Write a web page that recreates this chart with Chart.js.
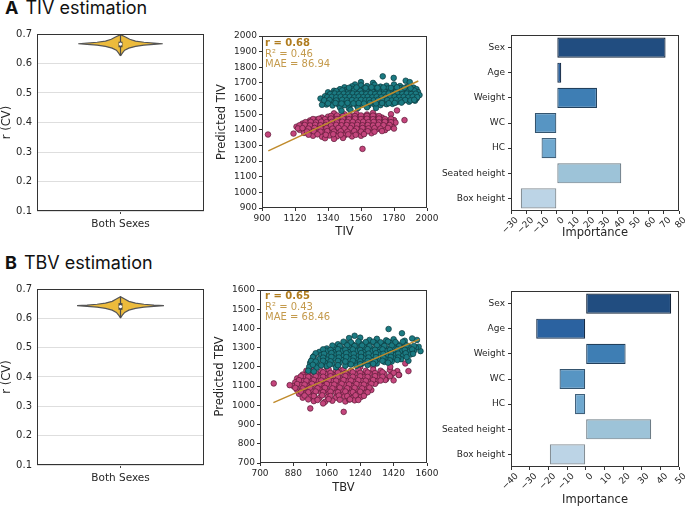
<!DOCTYPE html>
<html>
<head>
<meta charset="utf-8">
<script src="https://cdn.jsdelivr.net/npm/chart.js@4.4.1/dist/chart.umd.min.js"></script>
<style>
body { margin: 0; width: 685px; height: 509px; background: #fff; position: relative; overflow: hidden; }
.box { position: absolute; }
.head { position: absolute; left: 5px; font: 18px Inter, 'Open Sans', sans-serif; color: #111; white-space: nowrap; z-index: 5; }
.head b { margin-right: 7px; }
.stats { position: absolute; font: 10px 'DejaVu Sans'; line-height: 10.5px; color: #c49a4c; z-index: 5; }
.stats b { color: #b07c1e; }
</style>
</head>
<body>
<div class="head" style="top:-3px"><b>A</b>TIV estimation</div>
<div class="head" style="top:252px"><b>B</b>TBV estimation</div>
<div class="stats" style="left:265px;top:38px"><b>r = 0.68</b><br>R² = 0.46<br>MAE = 86.94</div>
<div class="stats" style="left:265px;top:291px"><b>r = 0.65</b><br>R² = 0.43<br>MAE = 68.46</div>
<script>
// violin outlines (r value, half width) and box stats [min, q1, median, q3, max]
const violinA_r = [0.626, 0.636, 0.645, 0.652, 0.658, 0.662, 0.665, 0.667, 0.669, 0.672, 0.676, 0.682, 0.690, 0.698];
const violinA_w = [0, 0.012, 0.025, 0.05, 0.09, 0.14, 0.20, 0.253, 0.20, 0.14, 0.09, 0.055, 0.03, 0];
const violinB_r = [0.601, 0.610, 0.620, 0.628, 0.634, 0.638, 0.641, 0.643, 0.645, 0.648, 0.652, 0.658, 0.666, 0.674];
const violinB_w = [0, 0.01, 0.025, 0.05, 0.09, 0.14, 0.20, 0.26, 0.20, 0.14, 0.09, 0.05, 0.025, 0];
const boxA = [0.626, 0.655, 0.666, 0.674, 0.698];
const boxB = [0.601, 0.629, 0.640, 0.652, 0.674];
const rTicks = [0.1, 0.2, 0.3, 0.4, 0.5, 0.6, 0.7];

// predicted vs actual (x,y pairs)
const tivMale = "1705,1742 1778,1732 1858,1714 1885,1705 1560,1705 1640,1700 1520,1690 1450,1672 1500,1678 1560,1684 1600,1680 1650,1688 1690,1676 1730,1682 1780,1690 1820,1680 1870,1676 1910,1670 1380,1650 1420,1660 1460,1655 1500,1662 1540,1658 1580,1664 1620,1660 1660,1666 1700,1658 1740,1664 1780,1660 1820,1666 1860,1658 1900,1652 1930,1660 1340,1640 1370,1632 1400,1640 1430,1636 1460,1644 1490,1638 1520,1642 1550,1636 1580,1644 1610,1638 1640,1646 1670,1640 1700,1644 1730,1638 1760,1645 1790,1640 1820,1646 1850,1638 1880,1644 1910,1636 1940,1642 1320,1615 1350,1622 1380,1616 1410,1624 1440,1618 1470,1626 1500,1620 1530,1626 1560,1618 1590,1624 1620,1618 1650,1626 1680,1620 1710,1626 1740,1618 1770,1624 1800,1620 1830,1626 1860,1618 1890,1624 1920,1616 1950,1622 1290,1600 1330,1596 1360,1604 1390,1598 1420,1604 1450,1598 1480,1606 1510,1600 1540,1606 1570,1598 1600,1604 1630,1600 1660,1606 1690,1598 1720,1604 1750,1600 1780,1606 1810,1600 1840,1604 1870,1598 1900,1604 1930,1600 1310,1578 1345,1584 1380,1578 1415,1584 1450,1580 1485,1586 1520,1580 1555,1584 1590,1578 1625,1584 1660,1580 1695,1586 1730,1580 1765,1584 1800,1578 1840,1584 1880,1580 1920,1586 1330,1562 1370,1556 1410,1562 1450,1558 1490,1564 1530,1558 1570,1562 1610,1556 1650,1562 1690,1558 1730,1564 1770,1566 1420,1542 1480,1536 1540,1540 1600,1544 1660,1540 1430,1522 1490,1528 1300,1560 " +
    "1395,1648 1435,1652 1475,1647 1515,1653 1555,1649 1595,1652 1635,1648 1675,1653 1715,1649 1755,1652 1795,1647 1835,1653 1875,1648 1915,1651 1355,1629 1385,1632 1415,1628 1445,1631 1475,1627 1505,1632 1535,1629 1565,1631 1595,1628 1625,1633 1655,1629 1685,1631 1715,1628 1745,1632 1775,1629 1805,1631 1835,1628 1865,1632 1895,1629 1925,1631 1335,1609 1365,1611 1395,1608 1425,1612 1455,1609 1485,1611 1515,1608 1545,1612 1575,1609 1605,1611 1635,1608 1665,1612 1695,1609 1725,1611 1755,1608 1785,1612 1815,1609 1845,1611 1875,1608 1905,1612 1935,1609 1315,1589 1350,1591 1395,1588 1435,1592 1465,1589 1500,1591 1530,1588 1560,1592 1590,1589 1615,1591 1645,1588 1675,1592 1705,1589 1735,1591 1765,1588 1795,1592 1825,1589 1855,1591 1890,1588 1915,1592 1340,1569 1390,1571 1430,1568 1470,1572 1510,1569 1545,1571 1580,1568 1620,1572 1660,1569 1700,1571 1745,1570 1785,1572 1830,1574 1480,1669 1530,1671 1590,1668 1630,1672 1670,1669 1710,1671 1760,1668 1800,1672 1850,1669 1890,1666";
const tivFemale = "1380,1505 1450,1500 1530,1503 1600,1498 1640,1508 1300,1478 1340,1484 1380,1476 1420,1482 1460,1478 1500,1486 1540,1478 1580,1484 1620,1480 1660,1486 1700,1478 1220,1460 1260,1466 1300,1458 1340,1464 1380,1460 1420,1466 1460,1458 1500,1464 1540,1460 1580,1466 1620,1458 1660,1464 1700,1460 1740,1456 1780,1462 1170,1440 1205,1446 1240,1438 1275,1444 1310,1440 1345,1446 1380,1438 1415,1444 1450,1440 1485,1446 1520,1438 1555,1444 1590,1440 1625,1446 1660,1438 1700,1444 1740,1440 1790,1446 1130,1420 1165,1426 1200,1418 1235,1424 1270,1420 1305,1426 1340,1418 1375,1424 1410,1420 1445,1426 1480,1418 1515,1424 1550,1420 1585,1426 1620,1418 1655,1424 1690,1420 1730,1426 1770,1418 1150,1400 1190,1406 1230,1398 1270,1404 1310,1400 1350,1406 1390,1398 1430,1404 1470,1400 1510,1406 1550,1398 1590,1404 1630,1400 1670,1406 1720,1398 1780,1408 1180,1380 1225,1386 1270,1378 1315,1384 1360,1380 1405,1386 1450,1378 1495,1384 1540,1380 1585,1386 1630,1378 1240,1362 1300,1356 1350,1364 1400,1358 1450,1364 1500,1358 1560,1362 1320,1346 1380,1342 1440,1348 940,1370 1110,1376 1570,1278 1800,1524 1850,1462 1760,1500 " +
    "1360,1489 1400,1492 1440,1488 1480,1491 1520,1488 1560,1492 1600,1489 1640,1491 1680,1488 1240,1469 1280,1471 1320,1468 1360,1472 1400,1469 1440,1471 1480,1468 1520,1472 1560,1469 1600,1471 1640,1468 1680,1472 1720,1469 1760,1471 1190,1449 1225,1451 1260,1448 1295,1452 1330,1449 1365,1451 1400,1448 1435,1452 1470,1449 1505,1451 1540,1448 1575,1452 1610,1449 1645,1451 1680,1448 1720,1452 1760,1449 1150,1429 1185,1431 1220,1428 1255,1432 1290,1429 1325,1431 1360,1428 1395,1432 1430,1429 1465,1431 1500,1428 1535,1432 1570,1429 1605,1431 1640,1428 1675,1432 1710,1429 1750,1431 1140,1409 1170,1411 1210,1408 1250,1412 1290,1409 1330,1411 1370,1408 1410,1412 1450,1409 1490,1411 1530,1408 1570,1412 1610,1409 1650,1411 1690,1408 1740,1412 1200,1389 1245,1391 1290,1388 1335,1392 1380,1389 1425,1391 1470,1388 1515,1392 1560,1389 1605,1391 1650,1388 1700,1392 1210,1369 1270,1371 1325,1368 1375,1372 1425,1369 1475,1371 1525,1368 1580,1372";
const tbvMale = "1393,1397 1465,1375 1546,1340 1565,1282 1555,1305 1210,1362 1180,1350 1240,1352 1290,1340 1330,1346 1380,1338 1420,1344 1480,1336 1520,1348 1120,1318 1160,1324 1200,1316 1240,1322 1280,1316 1320,1324 1360,1318 1400,1326 1440,1318 1480,1316 1060,1296 1100,1302 1140,1296 1180,1304 1220,1298 1260,1304 1300,1296 1340,1302 1380,1298 1420,1304 1460,1298 1500,1306 1540,1300 1020,1278 1060,1284 1100,1276 1140,1282 1180,1276 1220,1284 1260,1278 1300,1284 1340,1276 1380,1282 1420,1276 1460,1284 1500,1278 1530,1284 990,1256 1030,1262 1070,1256 1110,1264 1150,1258 1190,1264 1230,1256 1270,1262 1310,1258 1350,1264 1390,1256 1430,1262 1470,1258 1510,1264 980,1236 1020,1242 1060,1238 1100,1244 1140,1236 1180,1242 1220,1238 1260,1244 1300,1236 1340,1242 1380,1238 1420,1244 1460,1240 1500,1232 970,1220 1010,1214 1050,1222 1090,1216 1130,1222 1170,1216 1210,1222 1250,1218 1290,1224 1330,1218 1370,1226 1410,1228 965,1200 1005,1196 1060,1204 1110,1198 1160,1206 1220,1206 1280,1210 960,1180 990,1176 " +
    "1150,1331 1190,1328 1230,1332 1270,1329 1310,1331 1350,1328 1390,1332 1430,1329 1470,1331 1090,1311 1130,1308 1170,1312 1210,1309 1250,1311 1290,1308 1330,1312 1370,1309 1410,1311 1450,1308 1490,1312 1530,1309 1040,1291 1080,1288 1120,1292 1160,1289 1200,1291 1240,1288 1280,1292 1320,1289 1360,1291 1400,1288 1440,1292 1480,1289 1520,1291 1000,1271 1045,1268 1085,1272 1125,1269 1165,1271 1205,1268 1245,1272 1285,1269 1325,1271 1365,1268 1405,1272 1445,1269 1485,1271 1525,1268 985,1251 1040,1248 1085,1252 1125,1249 1165,1251 1205,1248 1245,1252 1285,1249 1325,1251 1365,1248 1405,1252 1445,1249 1490,1251 975,1231 1000,1228 1040,1232 1080,1229 1120,1231 1160,1228 1200,1232 1240,1229 1280,1231 1320,1228 1360,1232 1400,1234 1440,1236 985,1211 1030,1208 1075,1212 1120,1209 1190,1213 1240,1214 1310,1216 1390,1222";
const tbvFemale = "1000,1200 1060,1198 1120,1196 1240,1200 1310,1204 950,1180 990,1184 1030,1178 1070,1186 1110,1180 1150,1186 1190,1180 1230,1186 1270,1180 1310,1186 1350,1180 1400,1184 1440,1178 930,1160 970,1166 1010,1158 1050,1164 1090,1160 1130,1166 1170,1158 1210,1164 1250,1160 1290,1166 1330,1158 1370,1164 1410,1160 1450,1158 900,1140 940,1146 980,1138 1020,1144 1060,1140 1100,1146 1140,1138 1180,1144 1220,1140 1260,1146 1300,1138 1340,1144 1380,1136 890,1120 930,1126 970,1118 1010,1124 1050,1120 1090,1126 1130,1118 1170,1124 1210,1120 1250,1126 1290,1118 1330,1124 1375,1132 880,1100 920,1106 960,1098 1000,1104 1040,1100 1080,1106 1120,1098 1160,1104 1200,1100 1240,1106 1280,1098 1320,1112 900,1080 940,1086 980,1078 1020,1084 1060,1080 1100,1086 1140,1078 1180,1084 1220,1080 1260,1086 1300,1080 910,1060 950,1066 990,1058 1030,1064 1070,1060 1110,1066 1150,1058 1190,1064 1230,1060 1270,1066 930,1040 975,1046 1020,1038 1065,1044 1110,1040 1155,1046 1200,1038 1245,1044 990,1022 1050,1018 1090,1024 1160,1020 1210,1026 774,1114 860,1105 971,984 1040,1010 1151,966 1180,1030 1447,1158 1483,1218 1500,1178 1402,1200 1420,1130 " +
    "960,1171 1000,1168 1040,1172 1080,1169 1120,1171 1160,1168 1200,1172 1240,1169 1280,1171 1320,1168 1360,1172 1420,1169 920,1151 960,1148 1000,1152 1040,1149 1080,1151 1120,1148 1160,1152 1200,1149 1240,1151 1280,1148 1320,1152 1360,1149 1400,1151 910,1131 950,1128 990,1132 1030,1129 1070,1131 1110,1128 1150,1132 1190,1129 1230,1131 1270,1128 1310,1132 1350,1129 900,1111 940,1108 980,1112 1020,1109 1060,1111 1100,1108 1140,1112 1180,1109 1220,1111 1260,1108 1300,1112 890,1091 930,1088 970,1092 1010,1089 1050,1091 1090,1088 1130,1092 1170,1089 1210,1091 1250,1088 1290,1092 920,1071 960,1068 1000,1072 1040,1069 1080,1071 1120,1068 1160,1072 1200,1069 1240,1071 1280,1068 940,1051 990,1048 1035,1052 1080,1049 1125,1051 1170,1048 1215,1052 1260,1049 960,1031 1010,1028 1070,1032 1130,1029 1185,1031 1230,1028";
const tivFitX = [942, 1942], tivFitY = [1265, 1712];
const tbvFitX = [772, 1558], tbvFitY = [1014, 1343];
const tivTicks = [900, 1120, 1340, 1560, 1780, 2000];
const tbvTicks = [700, 880, 1060, 1240, 1420, 1600];

// feature importance
const features = ['Sex', 'Age', 'Weight', 'WC', 'HC', 'Seated height', 'Box height'];
const tivImportance = [71.2, 2.9, 26.3, -14.4, -10.0, 42.2, -23.6];
const tbvImportance = [45.8, -26.5, 21.4, -14.0, -5.7, 35.1, -19.2];
const barFill = ['#214d80', '#2b62a0', '#3e7eb4', '#5795c3', '#6fa8cf', '#9dc3d8', '#bcd4e6'];
const barEdge = ['#13243a', '#172c46', '#22405c', '#34546e', '#40607a', '#6d7c86', '#858f96'];

Chart.defaults.font.family = "'DejaVu Sans'";
Chart.defaults.color = '#262626';
Chart.defaults.animation = false;

const frame = {
    id: 'frame',
    afterDatasetsDraw(chart) {
        const a = chart.chartArea, ctx = chart.ctx;
        ctx.save();
        ctx.strokeStyle = '#333';
        ctx.lineWidth = 1;
        ctx.strokeRect(a.left + 0.5, a.top + 0.5, a.right - a.left - 1, a.bottom - a.top - 1);
        ctx.restore();
    }
};

function pts(s) {
    return s.split(' ').map(p => { const [x, y] = p.split(',').map(Number); return {x, y}; });
}

// area = chart area [l, t, r, b], m = margins [left axis, top, right, bottom axis]
function panel(area, m) {
    const [l, t, r, b] = area, [ml, mt, mr, mb] = m;
    const div = document.createElement('div');
    div.className = 'box';
    div.style.left = (l - ml) + 'px';
    div.style.top = (t - mt) + 'px';
    div.style.width = (r - l + ml + mr) + 'px';
    div.style.height = (b - t + mt + mb) + 'px';
    const cv = document.createElement('canvas');
    div.appendChild(cv);
    document.body.appendChild(div);
    return cv;
}

function baseOptions(m) {
    return {
        responsive: true,
        maintainAspectRatio: false,
        layout: { autoPadding: false, padding: { left: 0, top: m[1], right: m[2], bottom: 0 } },
        plugins: { legend: { display: false }, tooltip: { enabled: false } }
    };
}
const fitX = h => s => { s.height = h; s.paddingLeft = 0; s.paddingRight = 0; };
const fitY = w => s => { s.width = w; s.paddingTop = 0; s.paddingBottom = 0; };

function violin(area, m, r, w, box) {
    const outline = r.map((v, i) => ({x: w[i], y: v}))
        .concat(r.map((v, i) => ({x: -w[i], y: v})).reverse());
    const opts = baseOptions(m);
    opts.scales = {
        x: {
            type: 'linear', min: -0.5, max: 0.5,
            afterBuildTicks: s => { s.ticks = [{value: 0}]; },
            afterFit: fitX(m[3]),
            ticks: { callback: () => 'Both Sexes', font: { size: 10.5 }, padding: 4, maxRotation: 0 },
            grid: { drawOnChartArea: false, tickLength: 3, color: '#444' },
            border: { display: false }
        },
        y: {
            min: 0.1, max: 0.7,
            afterBuildTicks: s => { s.ticks = rTicks.map(v => ({value: v})); },
            afterFit: fitY(m[0]),
            title: { display: true, text: 'r (CV)', font: { size: 11.5 }, padding: 0 },
            ticks: { callback: v => v.toFixed(1), font: { size: 10 }, padding: 5 },
            grid: { color: '#dedede', drawTicks: false },
            border: { display: false }
        }
    };
    return new Chart(panel(area, m), {
        type: 'scatter',
        data: { datasets: [
            { data: [{x: 0, y: box[2]}], pointRadius: 1.6, pointBackgroundColor: '#fff', pointBorderWidth: 0 },
            { data: [{x: 0, y: box[1]}, {x: 0, y: box[3]}], showLine: true, borderColor: '#4a4a4a', borderWidth: 4, pointRadius: 0 },
            { data: [{x: 0, y: box[0]}, {x: 0, y: box[4]}], showLine: true, borderColor: '#4a4a4a', borderWidth: 1.2, pointRadius: 0 },
            { data: outline, showLine: true, fill: 'shape', backgroundColor: '#ecbb3c', borderColor: '#555', borderWidth: 1.2, pointRadius: 0 }
        ] },
        options: opts,
        plugins: [frame]
    });
}

function scatter(area, m, male, female, fx, fy, xTicks, yMin, yMax, xTitle, yTitle, titlePad) {
    const opts = baseOptions(m);
    opts.scales = {
        x: {
            type: 'linear', min: xTicks[0], max: xTicks[xTicks.length - 1],
            afterBuildTicks: s => { s.ticks = xTicks.map(v => ({value: v})); },
            afterFit: fitX(m[3]),
            title: { display: true, text: xTitle, font: { size: 11.5 }, padding: 0 },
            ticks: { callback: v => String(v), font: { size: 9 }, padding: 2, maxRotation: 0 },
            grid: { drawOnChartArea: false, tickLength: 3, color: '#333' },
            border: { display: false }
        },
        y: {
            min: yMin, max: yMax,
            ticks: { stepSize: 100, callback: v => String(v), font: { size: 9 }, padding: 2 },
            afterFit: fitY(m[0]),
            title: { display: true, text: yTitle, font: { size: 11.5 }, padding: { top: titlePad } },
            grid: { drawOnChartArea: false, tickLength: 3, color: '#333' },
            border: { display: false }
        }
    };
    return new Chart(panel(area, m), {
        type: 'scatter',
        data: { datasets: [
            { data: fx.map((x, i) => ({x, y: fy[i]})), showLine: true, borderColor: '#c08b2c', borderWidth: 1.5, pointRadius: 0 },
            { data: pts(male), backgroundColor: '#1b7a82', borderColor: '#0c3a3e', borderWidth: 0.7, pointRadius: 2.8 },
            { data: pts(female), backgroundColor: '#c4457c', borderColor: '#5c1a36', borderWidth: 0.7, pointRadius: 2.8 }
        ] },
        options: opts,
        plugins: [frame]
    });
}

function importance(area, m, values, xMin, xMax) {
    const opts = baseOptions(m);
    opts.indexAxis = 'y';
    opts.scales = {
        x: {
            min: xMin, max: xMax,
            afterFit: fitX(m[3]),
            title: { display: true, text: 'Importance', font: { size: 11.5 }, padding: 0 },
            ticks: { stepSize: 10, autoSkip: false, minRotation: 45, maxRotation: 45, font: { size: 9 }, padding: 1, labelOffset: 6,
                     callback: v => v < 0 ? '\u2212' + (-v) : String(v) },
            grid: { drawOnChartArea: false, tickLength: 3, color: '#333' },
            border: { display: false }
        },
        y: {
            afterFit: fitY(m[0]),
            ticks: { font: { size: 9 }, padding: 3 },
            grid: { drawOnChartArea: false, tickLength: 3, color: '#333', offset: false },
            border: { display: false }
        }
    };
    return new Chart(panel(area, m), {
        type: 'bar',
        data: { labels: features, datasets: [{
            data: values, backgroundColor: barFill, borderColor: barEdge, borderWidth: 1.2,
            borderSkipped: false, barPercentage: 0.8, categoryPercentage: 1
        }] },
        options: opts,
        plugins: [frame]
    });
}

violin([37, 34, 204, 211], [37, 10, 9, 40], violinA_r, violinA_w, boxA);
violin([37, 289, 204, 465], [37, 10, 9, 40], violinB_r, violinB_w, boxB);
scatter([262, 36, 427, 208], [52, 10, 14, 31], tivMale, tivFemale, tivFitX, tivFitY, tivTicks, 900, 2000, 'TIV', 'Predicted TIV', 5);
scatter([260, 290, 427, 463], [50, 10, 14, 32], tbvMale, tbvFemale, tbvFitX, tbvFitY, tbvTicks, 700, 1600, 'TBV', 'Predicted TBV', 3);
importance([511, 35, 679, 211], [90, 10, 6, 29], tivImportance, -30, 80);
importance([511, 291, 679, 467], [90, 10, 6, 40], tbvImportance, -40, 50);
</script>
</body>
</html>
